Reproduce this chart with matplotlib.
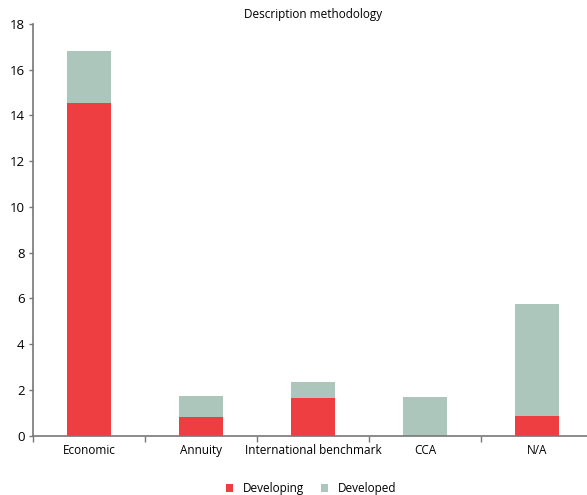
import matplotlib.pyplot as plt
import numpy as np

plt.rcParams['font.family'] = ['Open Sans', 'DejaVu Sans']

categories = ["Economic", "Annuity", "International benchmark", "CCA", "N/A"]
developing = [14.55, 0.83, 1.66, 0.0, 0.87]
developed = [2.27, 0.92, 0.69, 1.70, 4.90]

red = "#EE3E42"
green = "#ADC6BC"
grey = "#777777"

fig = plt.figure(figsize=(5.87, 4.95), dpi=100)
ax = fig.add_axes([0.0562, 0.1198, 0.9540, 0.8317])

x = np.arange(len(categories))
ax.bar(x, developing, width=0.4, color=red, label="Developing")
ax.bar(x, developed, width=0.4, bottom=developing, color=green, label="Developed")

ax.set_xlim(-0.5, len(categories) - 0.5)
ax.set_ylim(0, 18)
ax.set_yticks(range(0, 19, 2))
ax.set_xticks(x)
ax.set_xticklabels(categories, fontsize=8.5)
ax.set_xticks(np.arange(-0.5, len(categories), 1), minor=True)
ax.tick_params(axis='x', which='major', length=0, pad=6)
ax.tick_params(axis='x', which='minor', length=4, color=grey, width=1)
ax.tick_params(axis='y', length=3, color=grey, width=1, labelsize=9.5, pad=3)

for s in ['top', 'right']:
    ax.spines[s].set_visible(False)
for s in ['left', 'bottom']:
    ax.spines[s].set_color(grey)
    ax.spines[s].set_linewidth(1.2)

ax.set_title("Description methodology", fontsize=8.5, pad=4)

fig.legend(loc='lower center', bbox_to_anchor=(0.53, -0.022), ncol=2, frameon=False,
           fontsize=8.5, handlelength=0.6, handleheight=0.6, columnspacing=1.5,
           handletextpad=0.8)

fig.savefig("out.png", dpi=100)
